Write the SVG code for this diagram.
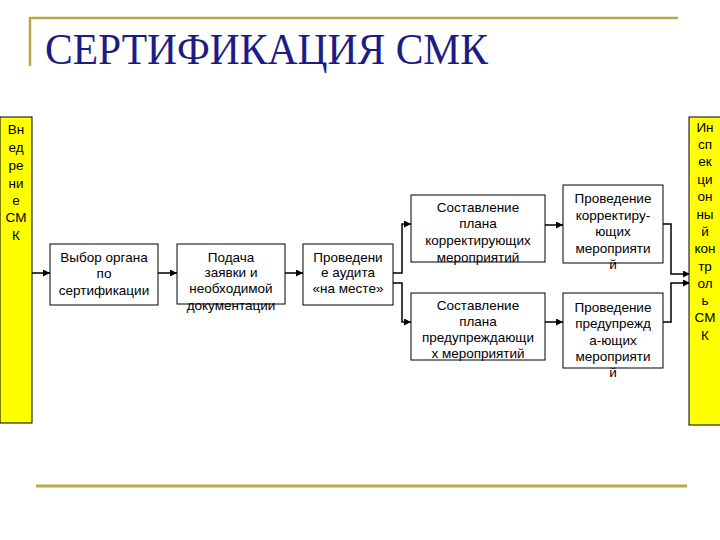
<svg xmlns="http://www.w3.org/2000/svg" width="720" height="540" viewBox="0 0 720 540">
<defs>
<style>
.box{fill:#fff;stroke:#000;stroke-width:1}
.side{fill:#ffff00;stroke:#000;stroke-width:1}
.t{font-family:"Liberation Sans",Arial,sans-serif;font-size:13.5px;fill:#000;text-anchor:middle}
.c{fill:none;stroke:#000;stroke-width:1.5}
.deco{stroke:#b8a848;fill:none}
</style>
<marker id="ah" viewBox="0 0 10 10" refX="10" refY="5" markerWidth="7" markerHeight="7" markerUnits="userSpaceOnUse" orient="auto">
<path d="M0,0 L10,5 L0,10 z" fill="#000"/>
</marker>
</defs>
<rect width="720" height="540" fill="#fff"/>
<g id="frame">
<polyline class="deco" stroke-width="2.5" points="30,66 30,18 678,18"/>
<line class="deco" stroke-width="3" x1="36" y1="486" x2="687" y2="486" stroke="#c2b248"/>
</g>
<g id="title">
<text x="45" y="64" font-family="'Liberation Serif','Times New Roman',serif" font-size="45" fill="#1c1c84" textLength="443" lengthAdjust="spacingAndGlyphs">СЕРТИФИКАЦИЯ СМК</text>
</g>
<g id="connectors">
<line class="c" x1="32" y1="273" x2="50" y2="273" marker-end="url(#ah)"/>
<line class="c" x1="158" y1="273" x2="177" y2="273" marker-end="url(#ah)"/>
<line class="c" x1="285" y1="273" x2="303" y2="273" marker-end="url(#ah)"/>
<polyline class="c" points="393,273 402,273 402,224 411,224" marker-end="url(#ah)"/>
<polyline class="c" points="393,283 402,283 402,322 411,322" marker-end="url(#ah)"/>
<line class="c" x1="545" y1="225" x2="563" y2="225" marker-end="url(#ah)"/>
<line class="c" x1="545" y1="322" x2="563" y2="322" marker-end="url(#ah)"/>
<polyline class="c" points="663,224 671,224 671,274 690,274" marker-end="url(#ah)"/>
<polyline class="c" points="663,322 671,322 671,283 690,283" marker-end="url(#ah)"/>
</g>
<g id="n-vnedrenie">
<rect class="side" x="0" y="117" width="32" height="306"/>
<text class="t" x="16"><tspan x="16" y="134">Вн</tspan><tspan x="16" y="152">ед</tspan><tspan x="16" y="170">ре</tspan><tspan x="16" y="188">ни</tspan><tspan x="16" y="205">е</tspan><tspan x="16" y="222">СМ</tspan><tspan x="16" y="240">К</tspan></text>
</g>
<g id="n-vybor">
<rect class="box" x="50" y="244" width="108" height="61"/>
<text class="t"><tspan x="104" y="262">Выбор органа</tspan><tspan x="104" y="278">по</tspan><tspan x="104" y="295">сертификации</tspan></text>
</g>
<g id="n-podacha">
<rect class="box" x="177" y="244" width="108" height="60"/>
<text class="t"><tspan x="231" y="262">Подача</tspan><tspan x="231" y="277">заявки и</tspan><tspan x="231" y="293">необходимой</tspan><tspan x="231" y="310">документации</tspan></text>
</g>
<g id="n-audit">
<rect class="box" x="303" y="244" width="90" height="61"/>
<text class="t"><tspan x="348" y="262">Проведени</tspan><tspan x="348" y="277">е аудита</tspan><tspan x="348" y="293">«на месте»</tspan></text>
</g>
<g id="n-plan-korr">
<rect class="box" x="411" y="195" width="134" height="67"/>
<text class="t"><tspan x="478" y="212">Составление</tspan><tspan x="478" y="228">плана</tspan><tspan x="478" y="245">корректирующих</tspan><tspan x="478" y="262">мероприятий</tspan></text>
</g>
<g id="n-plan-pred">
<rect class="box" x="411" y="293" width="134" height="67"/>
<text class="t"><tspan x="478" y="310">Составление</tspan><tspan x="478" y="326">плана</tspan><tspan x="478" y="342">предупреждающи</tspan><tspan x="478" y="358">х мероприятий</tspan></text>
</g>
<g id="n-prov-korr">
<rect class="box" x="563" y="185" width="100" height="78"/>
<text class="t"><tspan x="613" y="203">Проведение</tspan><tspan x="613" y="220">корректиру-</tspan><tspan x="613" y="236">ющих</tspan><tspan x="613" y="253">мероприяти</tspan><tspan x="613" y="269">й</tspan></text>
</g>
<g id="n-prov-pred">
<rect class="box" x="563" y="293" width="100" height="75"/>
<text class="t"><tspan x="613" y="312">Проведение</tspan><tspan x="613" y="328">предупрежд</tspan><tspan x="613" y="345">а-ющих</tspan><tspan x="613" y="361">мероприяти</tspan><tspan x="613" y="377">й</tspan></text>
</g>
<g id="n-inspekcia">
<rect class="side" x="689" y="117" width="35" height="308"/>
<text class="t"><tspan x="705" y="132">Ин</tspan><tspan x="705" y="149">сп</tspan><tspan x="705" y="166">ек</tspan><tspan x="705" y="184">ци</tspan><tspan x="705" y="201">он</tspan><tspan x="705" y="219">ны</tspan><tspan x="705" y="236">й</tspan><tspan x="705" y="253">кон</tspan><tspan x="705" y="271">тр</tspan><tspan x="705" y="288">ол</tspan><tspan x="705" y="305">ь</tspan><tspan x="705" y="322">СМ</tspan><tspan x="705" y="340">К</tspan></text>
</g>
</svg>
